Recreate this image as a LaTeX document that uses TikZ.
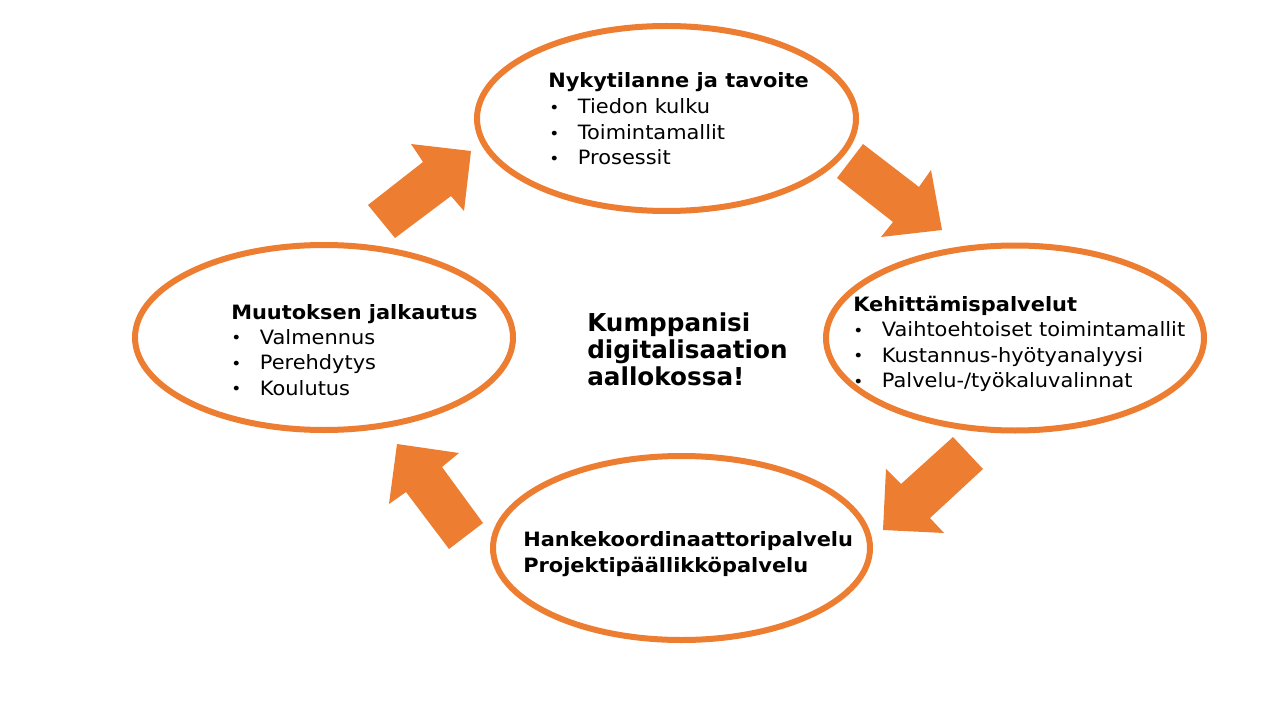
\documentclass[tikz,border=0pt]{standalone}
\usepackage{fontspec}
\setmainfont{DejaVu Sans}[FakeStretch=1.06]
\newfontfamily\ctrfont{DejaVu Sans}
\definecolor{orng}{HTML}{ED7D31}
\tikzset{
  ell/.style={draw=orng, line width=4.5pt, fill=white},
  blk/.style={fill=orng, draw=none},
  txt/.style={anchor=base west, inner sep=0pt, font=\fontsize{14.8}{17}\selectfont},
  ttl/.style={anchor=base west, inner sep=0pt, font=\fontsize{14.8}{17}\selectfont\bfseries},
  ctr/.style={anchor=base west, inner sep=0pt, font=\ctrfont\fontsize{18.5}{22}\selectfont\bfseries},
}
\newcommand{\bul}[1]{\makebox[21.5pt][l]{\raisebox{0.3pt}{\fontsize{12}{12}\selectfont\textbullet}}#1}
\begin{document}
\begin{tikzpicture}[x=0.75pt,y=-0.75pt]
\useasboundingbox (0,0) rectangle (1280,720);
\fill[white] (0,0) rectangle (1280,720);
% block arrows
\fill[blk] (368,205) -- (423,162) -- (411,144) -- (471,151) -- (464,211) -- (451,196) -- (395,238) -- cycle;
\fill[blk] (863,144) -- (919,187) -- (931,170) -- (942,230) -- (881,237) -- (893,222) -- (837,178) -- cycle;
\fill[blk] (953,437) -- (983,469) -- (930,518) -- (944,533) -- (883,530) -- (886,469) -- (901,484) -- cycle;
\fill[blk] (483,523) -- (442,467) -- (459,453) -- (397,444) -- (389,504) -- (406,492) -- (449,549) -- cycle;
% ellipses
\draw[ell] (666.5,118.5) ellipse [x radius=189.5, y radius=92.5];
\draw[ell] (1015,338) ellipse [x radius=189, y radius=92.5];
\draw[ell] (681.5,548) ellipse [x radius=188.5, y radius=92];
\draw[ell] (324,337.5) ellipse [x radius=189, y radius=92.5];
% top
\node[ttl] (tT) at (548,88) {Nykytilanne ja tavoite};
\node[txt] (tA) at (549,114) {\bul{Tiedon kulku}};
\node[txt] (tB) at (549,139.5) {\bul{Toimintamallit}};
\node[txt] (tC) at (549,165) {\bul{Prosessit}};
% right
\node[ttl] (rT) at (853,311) {Kehittämispalvelut};
\node[txt] (rA) at (853,336.5) {\bul{Vaihtoehtoiset toimintamallit}};
\node[txt] (rB) at (853,362) {\bul{Kustannus-hyötyanalyysi}};
\node[txt] (rC) at (853,387.5) {\bul{Palvelu-/työkaluvalinnat}};
% bottom
\node[ttl] (bA) at (523,546) {Hankekoordinaattoripalvelu};
\node[ttl] (bB) at (523,572) {Projektipäällikköpalvelu};
% left
\node[ttl] (lT) at (231,319) {Muutoksen jalkautus};
\node[txt] (lA) at (231,344) {\bul{Valmennus}};
\node[txt] (lB) at (231,369.5) {\bul{Perehdytys}};
\node[txt] (lC) at (231,395) {\bul{Koulutus}};
% centre
\node[ctr] (c1) at (587,331) {Kumppanisi};
\node[ctr] (c2) at (587,358) {digitalisaation};
\node[ctr] (c3) at (587,385) {aallokossa!};
\end{tikzpicture}
\end{document}
